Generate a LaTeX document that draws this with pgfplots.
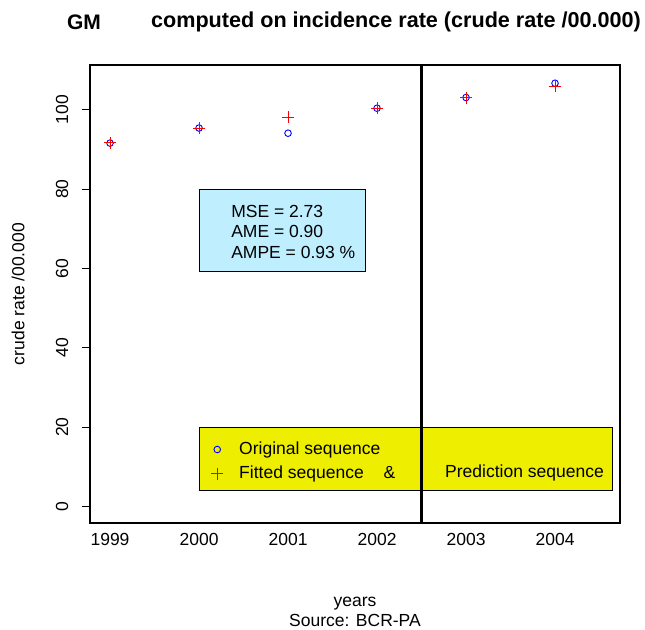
\documentclass[border=0pt]{standalone}
\usepackage{fontspec}
\setmainfont{Liberation Sans}
\usepackage{pgfplots}
\pgfplotsset{compat=1.18}
\definecolor{lblue1}{HTML}{BFEFFF}
\definecolor{yel2}{HTML}{EEEE00}
\newcommand{\rfont}{\fontsize{17.5bp}{20bp}\selectfont}

\begin{document}
\rfont
\begin{tikzpicture}
\useasboundingbox (-90bp,-107bp) rectangle (555bp,523bp);
\begin{axis}[
 at={(0,0)},anchor=south west,scale only axis,width=530bp,height=458bp,
 xmin=1998.775,xmax=2004.73,ymin=-4.2,ymax=111.3,
 axis line style={line width=1.1bp},
 xtick={1999,2000,2001,2002,2003,2004},
 ytick={0,20,40,60,80,100},
 xtick pos=left,ytick pos=left,
 tick align=outside,major tick length=8bp,
 xtick style={draw=none},ytick style={line width=0.9bp,black},
 /pgf/number format/assume math mode=true,
 /pgf/number format/1000 sep={},
 tick label style={font=\rfont,inner sep=0pt},
 yticklabel style={rotate=90,anchor=south},
 yticklabel shift=13.5bp,
 xticklabel shift=2.5bp,
 xticklabel style={anchor=north},
 xlabel={years\\Source: BCR-PA},
 xlabel style={font=\rfont,align=center,at={(axis description cs:0.5,-0.193)},anchor=center},
 ylabel={crude rate /00.000},
 ylabel style={font=\rfont,at={(axis description cs:-0.1358,0.5)},anchor=center,rotate=0},
 legend style={at={(axis cs:2000.135,16.4)},anchor=north west,draw=none,fill=none,
   font=\rfont,inner sep=0pt,row sep=8bp,
   nodes={text height=12.5bp,text depth=3.5bp,inner sep=0pt},
   /tikz/every odd column/.style={column sep=16bp}},
 legend cell align=left,
]
% boxes
\draw[black,line width=0.8bp,fill=lblue1] (axis cs:2000,80) rectangle (axis cs:2001.87,59.2);
\draw[black,line width=0.8bp,fill=yel2] (axis cs:2000,20) rectangle (axis cs:2004.65,4);
\node[anchor=west,font=\rfont,inner sep=0pt] at (axis cs:2000.36,74.3) {MSE = 2.73};
\node[anchor=west,font=\rfont,inner sep=0pt] at (axis cs:2000.36,69.2) {AME = 0.90};
\node[anchor=west,font=\rfont,inner sep=0pt] at (axis cs:2000.36,63.9) {AMPE = 0.93 \%};
\node[anchor=base west,font=\rfont,inner sep=0pt] at (axis cs:2002.764,7.23) {Prediction sequence};
% forecast origin
\addplot[black,line width=3bp,forget plot] coordinates {(2002.5,-10) (2002.5,120)};
% original sequence
\addplot[only marks,mark=o,blue,mark size=3.3bp,line width=0.9bp] coordinates {
 (1999,91.6) (2000,95.4) (2001,94.1) (2002,100.4) (2003,103.1) (2004,106.7)};
% fitted + predicted
\addplot[only marks,mark=+,red,mark size=6bp,line width=0.9bp] coordinates {
 (1999,91.7) (2000,95.4) (2001,98.1) (2002,100.4) (2003,103.0) (2004,105.9)};
\legend{Original sequence,Fitted sequence\hspace{20bp}\&}
\end{axis}
\node[font=\bfseries\fontsize{21bp}{25bp}\selectfont] at (-6bp,501bp) {GM};
\node[font=\bfseries\fontsize{21.6bp}{25bp}\selectfont] at (306bp,501bp) {computed on incidence rate (crude rate /00.000)};
\end{tikzpicture}
\end{document}
